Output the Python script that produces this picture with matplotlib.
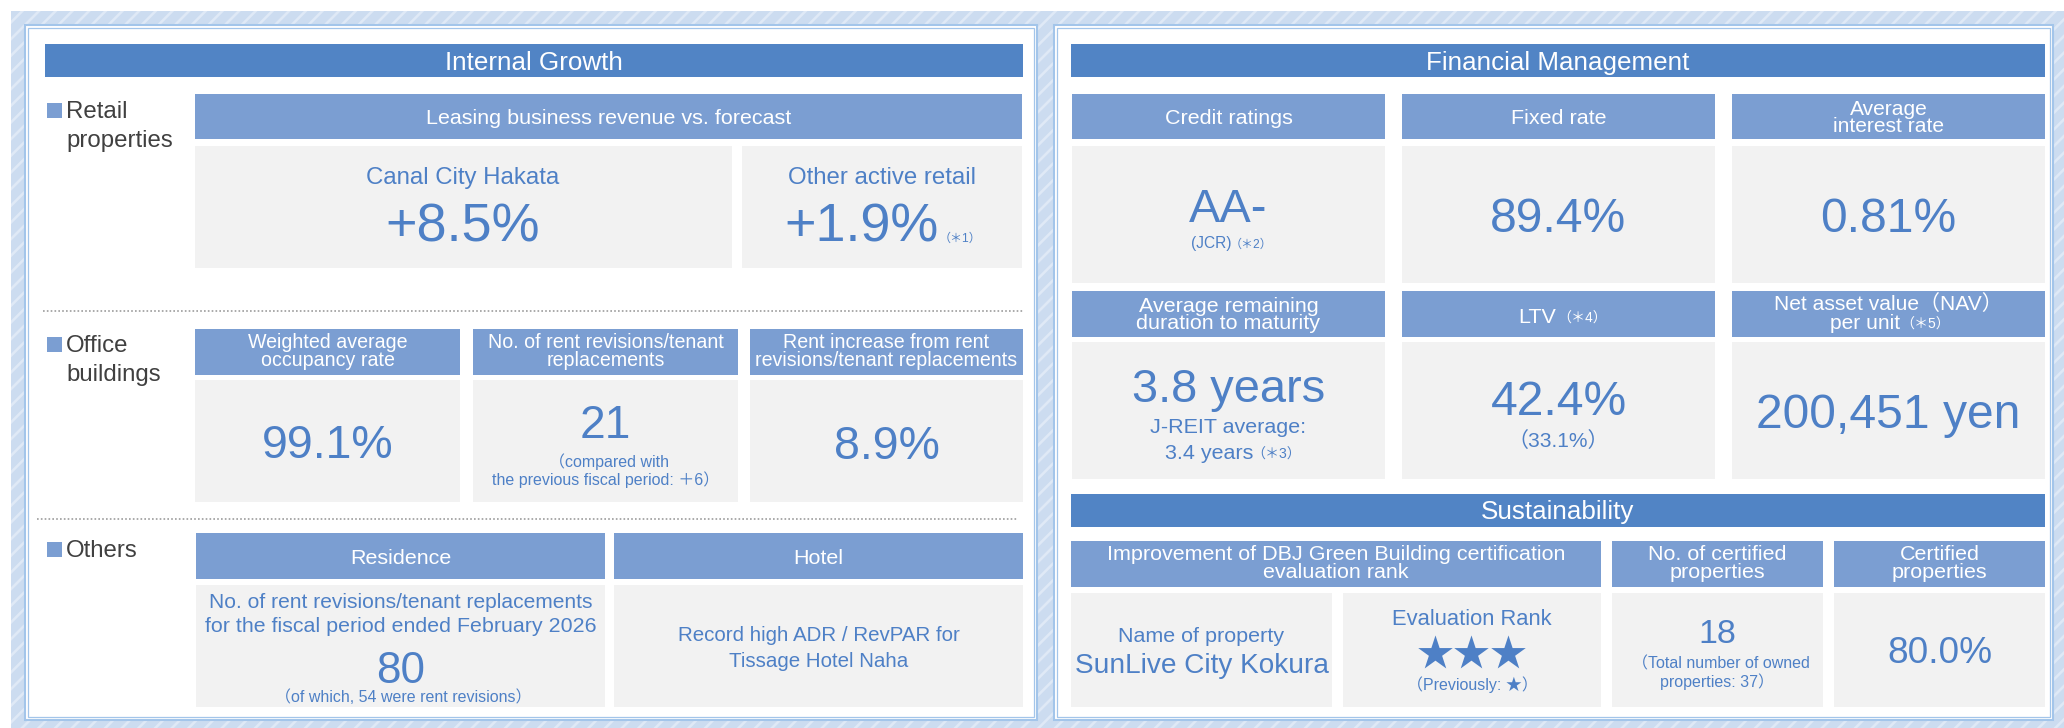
import matplotlib
matplotlib.use('Agg')
import matplotlib.pyplot as plt
from matplotlib.patches import Rectangle

plt.rcParams['font.family'] = ['Liberation Sans', 'Noto Sans CJK JP', 'DejaVu Sans']
plt.rcParams['hatch.linewidth'] = 1.9

# ---------------- data ----------------
section_titles = ["Internal Growth", "Financial Management", "Sustainability"]
category_labels = [["Retail", "properties"], ["Office", "buildings"], ["Others"]]

retail_header = "Leasing business revenue vs. forecast"
retail_names = ["Canal City Hakata", "Other active retail"]
retail_values = ["+8.5%", "+1.9%"]
retail_notes = ["", "（＊1）"]

office_headers = [["Weighted average", "occupancy rate"],
                  ["No. of rent revisions/tenant", "replacements"],
                  ["Rent increase from rent", "revisions/tenant replacements"]]
office_values = ["99.1%", "21", "8.9%"]
office_notes = ["（compared with", "the previous fiscal period: ＋6）"]

others_headers = ["Residence", "Hotel"]
residence_lines = ["No. of rent revisions/tenant replacements",
                   "for the fiscal period ended February 2026"]
residence_value = "80"
residence_note = "（of which, 54 were rent revisions）"
hotel_lines = ["Record high ADR / RevPAR for", "Tissage Hotel Naha"]

fin_headers_row1 = [["Credit ratings"], ["Fixed rate"], ["Average", "interest rate"]]
fin_values_row1 = ["AA-", "89.4%", "0.81%"]
credit_agency = "(JCR)"
credit_note = "（＊2）"
fin_headers_row2 = [["Average remaining", "duration to maturity"], ["LTV"], ["Net asset value（NAV）", "per unit"]]
fin_header_notes_row2 = ["", "（＊4）", "（＊5）"]
fin_values_row2 = ["3.8 years", "42.4%", "200,451 yen"]
jreit_lines = ["J-REIT average:", "3.4 years"]
jreit_note = "（＊3）"
ltv_sub = "（33.1%）"

sus_headers = [["Improvement of DBJ Green Building certification", "evaluation rank"],
               ["No. of certified", "properties"],
               ["Certified", "properties"]]
property_label = "Name of property"
property_name = "SunLive City Kokura"
rank_label = "Evaluation Rank"
rank_now = "★★★"
rank_prev = "（Previously: ★）"
certified_count = "18"
certified_note = ["（Total number of owned", "properties: 37）"]
certified_ratio = "80.0%"

# ---------------- style ----------------
DARK = '#5184C5'
SUB = '#7B9ED2'
BOX = '#F2F2F2'
VAL = '#4E80C6'
LBL = '#404040'
BORDER = '#A3C5EA'
HATCH_BG = '#CCDCF0'
HATCH_FG = '#DFE9F6'

fig = plt.figure(figsize=(20.64, 7.28), dpi=100)
ax = fig.add_axes([0, 0, 1, 1])
ax.set_xlim(0, 2064)
ax.set_ylim(728, 0)
ax.axis('off')


def rect(x0, y0, x1, y1, fc, ec='none', lw=0, z=1, **kw):
    ax.add_patch(Rectangle((x0, y0), x1 - x0, y1 - y0, facecolor=fc,
                           edgecolor=ec, linewidth=lw, zorder=z, **kw))


def T(x, y, s, px, color=VAL, ha='center'):
    ax.text(x, y, s, fontsize=px * 0.72, color=color, ha=ha, va='baseline', zorder=5)


# background hatch frame
rect(11, 11, 2064, 728, HATCH_BG, ec=HATCH_FG, lw=0, z=0, hatch='//')

# panels
for (x0, x1) in [(24.5, 1037), (1054, 2053)]:
    rect(x0, 25, x1, 720, 'white', BORDER, 1.5, z=1)
    rect(x0 + 3, 28, x1 - 3, 717, 'none', BORDER, 0.9, z=1)

# section headers
rect(45, 44, 1023, 77, DARK, z=2)
T(534, 70, section_titles[0], 26, 'white')
rect(1071, 44, 2045, 77, DARK, z=2)
T(1558, 70, section_titles[1], 26, 'white')
rect(1071, 494, 2045, 527, DARK, z=2)
T(1558, 519, section_titles[2], 26, 'white')

# category markers
for (y0, lines) in zip([103, 337, 542], category_labels):
    rect(47, y0, 62, y0 + 15, SUB, z=2)
    for i, s in enumerate(lines):
        T(66, y0 + 15 + 28.5 * i, s, 24, LBL, ha='left')

# dotted separators
ax.plot([43, 1023], [311, 311], color='#9C9C9C', lw=1.2, ls=(0, (1, 1.3)), zorder=2)
ax.plot([37, 1017], [519, 519], color='#9C9C9C', lw=1.2, ls=(0, (1, 1.3)), zorder=2)

# ---- retail ----
rect(195, 94, 1022, 139, SUB, z=2)
T(608.5, 124.5, retail_header, 21.5, 'white')
rect(195, 146, 732, 268, BOX, z=2)
rect(742, 146, 1022, 268, BOX, z=2)
T(463, 184, retail_names[0], 24)
T(463, 242, retail_values[0], 54)
T(882, 184, retail_names[1], 24)
T(939, 242, retail_values[1], 54, ha='right')
T(939, 242, retail_notes[1], 12, ha='left')

# ---- office ----
office_cols = [(195, 460), (473, 738), (750, 1023)]
for (x0, x1), hdr in zip(office_cols, office_headers):
    rect(x0, 329, x1, 375, SUB, z=2)
    rect(x0, 380, x1, 502, BOX, z=2)
    xc = (x0 + x1) / 2
    for i, s in enumerate(hdr):
        T(xc, 348 + 18 * i, s, 19.6, 'white')
T(327.5, 458, office_values[0], 46.5)
T(605.5, 438, office_values[1], 46)
T(609, 467, office_notes[0], 16)
T(605.5, 485, office_notes[1], 16)
T(886.5, 459, office_values[2], 46.5)

# ---- others ----
res = (196, 605)
hot = (614, 1023)
for (x0, x1), hdr in zip([res, hot], others_headers):
    rect(x0, 533, x1, 579, SUB, z=2)
    rect(x0, 585, x1, 707, BOX, z=2)
    T((x0 + x1) / 2, 564, hdr, 21.5, 'white')
xr = (res[0] + res[1]) / 2
T(xr, 608, residence_lines[0], 21)
T(xr, 632, residence_lines[1], 21.4)
T(xr, 683, residence_value, 44)
T(xr + 3, 702, residence_note, 16)
xh = (hot[0] + hot[1]) / 2
T(xh, 641, hotel_lines[0], 20.5)
T(xh, 667, hotel_lines[1], 20.5)

# ---- financial management ----
fin_cols = [(1072, 1385), (1402, 1715), (1732, 2045)]
for (x0, x1), hdr in zip(fin_cols, fin_headers_row1):
    rect(x0, 94, x1, 139, SUB, z=2)
    rect(x0, 146, x1, 283, BOX, z=2)
    xc = (x0 + x1) / 2
    if len(hdr) == 1:
        T(xc, 124.5, hdr[0], 21.5, 'white')
    else:
        T(xc, 115, hdr[0], 21, 'white')
        T(xc, 132, hdr[1], 21, 'white')
c1, c2, c3 = [(a + b) / 2 for a, b in fin_cols]
T(c1, 222, fin_values_row1[0], 47)
T(1231, 248, credit_agency, 15.5, ha='right')
T(1230, 248, credit_note, 12, ha='left')
T(c2, 232, fin_values_row1[1], 48)
T(c3, 232, fin_values_row1[2], 48)

for (x0, x1) in fin_cols:
    rect(x0, 291, x1, 337, SUB, z=2)
    rect(x0, 342, x1, 479, BOX, z=2)
T(c1, 312, fin_headers_row2[0][0], 21.5, 'white')
T(c1, 329, fin_headers_row2[0][1], 21.5, 'white')
T(1556, 323, fin_headers_row2[1][0], 21.5, 'white', ha='right')
T(1557, 323, fin_header_notes_row2[1], 14, 'white', ha='left')
T(c3, 310, fin_headers_row2[2][0], 21, 'white')
T(1900, 329, fin_headers_row2[2][1], 21, 'white', ha='right')
T(1900, 329, fin_header_notes_row2[2], 14, 'white', ha='left')

T(c1, 402, fin_values_row2[0], 47)
T(c1, 433, jreit_lines[0], 21.5)
T(1253, 459, jreit_lines[1], 21.5, ha='right')
T(1251, 459, jreit_note, 14, ha='left')
T(c2, 415, fin_values_row2[1], 48)
T(c2, 447, ltv_sub, 21)
T(c3, 428, fin_values_row2[2], 48)

# ---- sustainability ----
sus_hcols = [(1071, 1601), (1612, 1823), (1834, 2045)]
for (x0, x1), hdr in zip(sus_hcols, sus_headers):
    rect(x0, 541, x1, 587, SUB, z=2)
    xc = (x0 + x1) / 2
    T(xc, 560, hdr[0], 21.5, 'white')
    T(xc, 578, hdr[1], 21.5, 'white')
sus_bcols = [(1071, 1332), (1343, 1601), (1612, 1823), (1834, 2045)]
for (x0, x1) in sus_bcols:
    rect(x0, 593, x1, 707, BOX, z=2)
b1, b2, b3, b4 = [(a + b) / 2 for a, b in sus_bcols]
T(b1, 642, property_label, 21.5)
T(b1, 673, property_name, 28)
T(b2, 625, rank_label, 22)
T(b2, 666, rank_now, 37)
T(b2, 690, rank_prev, 16)
T(b3, 643, certified_count, 34)
T(b3 + 3, 668, certified_note[0], 16)
T(b3, 687, certified_note[1], 16)
T(b4, 663, certified_ratio, 37)

fig.savefig('out.png', dpi=100)
